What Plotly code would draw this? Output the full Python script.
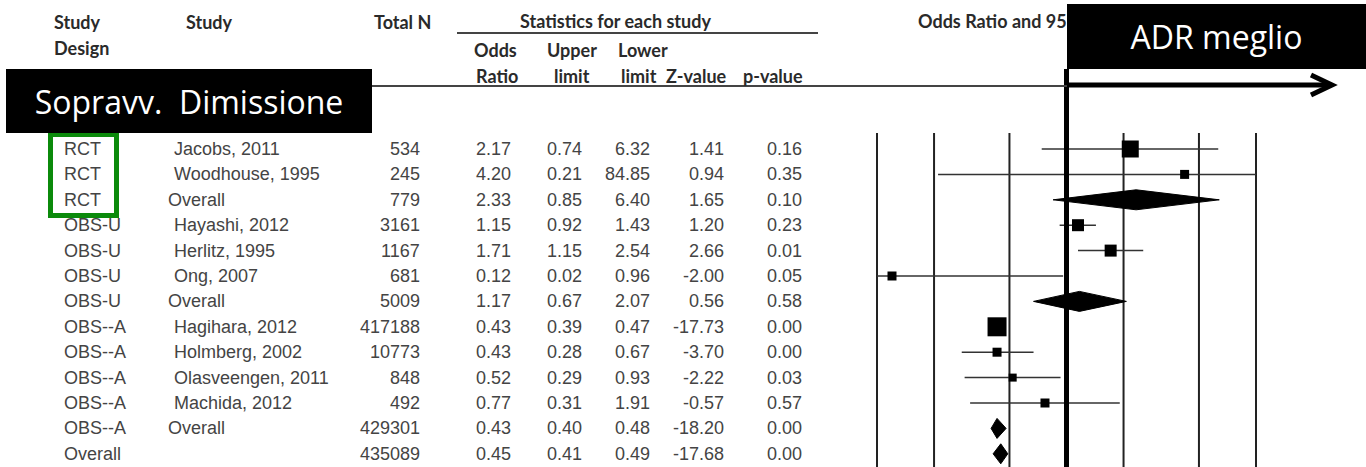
import plotly.graph_objects as go

# ---------------- data ----------------
designs = ["RCT", "RCT", "RCT", "OBS-U", "OBS-U", "OBS-U", "OBS-U",
           "OBS--A", "OBS--A", "OBS--A", "OBS--A", "OBS--A", "Overall"]
studies = ["Jacobs, 2011", "Woodhouse, 1995", "Overall", "Hayashi, 2012",
           "Herlitz, 1995", "Ong, 2007", "Overall", "Hagihara, 2012",
           "Holmberg, 2002", "Olasveengen, 2011", "Machida, 2012", "Overall", ""]
total_n = [534, 245, 779, 3161, 1167, 681, 5009, 417188, 10773, 848, 492, 429301, 435089]
odds_ratio = [2.17, 4.20, 2.33, 1.15, 1.71, 0.12, 1.17, 0.43, 0.43, 0.52, 0.77, 0.43, 0.45]
upper_limit = [0.74, 0.21, 0.85, 0.92, 1.15, 0.02, 0.67, 0.39, 0.28, 0.29, 0.31, 0.40, 0.41]
lower_limit = [6.32, 84.85, 6.40, 1.43, 2.54, 0.96, 2.07, 0.47, 0.67, 0.93, 1.91, 0.48, 0.49]
z_value = [1.41, 0.94, 1.65, 1.20, 2.66, -2.00, 0.56, -17.73, -3.70, -2.22, -0.57, -18.20, -17.68]
p_value = [0.16, 0.35, 0.10, 0.23, 0.01, 0.05, 0.58, 0.00, 0.00, 0.03, 0.57, 0.00, 0.00]
is_summary = [False, False, True, False, False, False, True,
              False, False, False, False, True, True]
axis_ticks = [0.1, 0.2, 0.5, 1, 2, 5, 10]

# ---------------- style / layout ----------------
marker_px = [17, 9, 0, 12, 12, 9, 0, 19, 9, 8, 9, 0, 0]   # square sizes (px)
W, H = 1366, 467
PX_PER_DEC = 189.5
PX_AT_01 = 877
x_lo = -1 - PX_AT_01 / PX_PER_DEC
x_hi = x_lo + W / PX_PER_DEC
ROW0, ROW_H = 149.0, 25.4
y_top = -ROW0 / ROW_H
y_bot = (H - ROW0) / ROW_H
DIAM_HALF = 10 / ROW_H
AX_MIN, AX_MAX = axis_ticks[0], axis_ticks[-1]

fig = go.Figure()

# CI lines
for i, (lo, hi, summ) in enumerate(zip(upper_limit, lower_limit, is_summary)):
    if summ:
        continue
    fig.add_trace(go.Scatter(
        x=[max(lo, AX_MIN), min(hi, AX_MAX)], y=[i, i], mode="lines",
        line=dict(color="#333333", width=1.5), hoverinfo="skip", showlegend=False))

# squares
sq_idx = [i for i in range(len(odds_ratio)) if not is_summary[i]]
fig.add_trace(go.Scatter(
    x=[odds_ratio[i] for i in sq_idx], y=sq_idx, mode="markers",
    marker=dict(symbol="square", size=[marker_px[i] for i in sq_idx],
                color="black", opacity=1, line=dict(width=0)),
    hoverinfo="skip", showlegend=False))

# diamonds
for i, summ in enumerate(is_summary):
    if not summ:
        continue
    fig.add_trace(go.Scatter(
        x=[upper_limit[i], odds_ratio[i], lower_limit[i], odds_ratio[i], upper_limit[i]],
        y=[i, i - DIAM_HALF, i, i + DIAM_HALF, i],
        mode="lines", fill="toself", fillcolor="black",
        line=dict(color="black", width=1), hoverinfo="skip", showlegend=False))

shapes = []
# vertical reference lines
for t in axis_ticks:
    if t == 1:
        shapes.append(dict(type="line", xref="x", yref="y2", x0=t, x1=t, y0=69, y1=H,
                           line=dict(color="black", width=5), layer="above"))
    else:
        shapes.append(dict(type="line", xref="x", yref="y2", x0=t, x1=t, y0=133, y1=H,
                           line=dict(color="#222222", width=2), layer="below"))
# header rules
shapes.append(dict(type="line", xref="x2", yref="y2", x0=300, x1=1067, y0=86, y1=86,
                   line=dict(color="#444444", width=2)))
shapes.append(dict(type="line", xref="x2", yref="y2", x0=457, x1=818, y0=33, y1=33,
                   line=dict(color="#444444", width=2)))
# thick arrow
shapes.append(dict(type="line", xref="x2", yref="y2", x0=1067, x1=1330, y0=85, y1=85,
                   line=dict(color="black", width=5)))
shapes.append(dict(type="path", xref="x2", yref="y2", path="M1311,75 L1332,85 L1311,95",
                   line=dict(color="black", width=5)))
# green frame
shapes.append(dict(type="rect", xref="x2", yref="y2", x0=50.5, x1=116.5, y0=134.5, y1=215.5,
                   line=dict(color="#0b8a0b", width=5)))

ann = []
tfont = dict(family="Liberation Sans, Arial", size=18, color="#444444")
hfont = dict(family="Lato, Open Sans", size=18, color="#2a2a2a")


def txt(text, x, y, xanchor="left", yref="y", font=tfont):
    ann.append(dict(text=text, x=x, y=y, xref="x2", yref=yref, xanchor=xanchor,
                    yanchor="middle", showarrow=False, font=font, borderpad=0))


# headers
def hdr(text, x, y, xanchor="left"):
    txt("<b>" + text + "</b>", x, y, xanchor, yref="y2", font=hfont)


hdr("Study", 53, 22)
hdr("Design", 53, 48)
hdr("Study", 185, 22)
hdr("Total N", 432, 22, "right")
hdr("Statistics for each study", 615, 21, "center")
hdr("Odds", 473, 50)
hdr("Ratio", 475, 76)
hdr("Upper", 546, 50)
hdr("limit", 553, 76)
hdr("Lower", 617, 50)
hdr("limit", 620, 76)
hdr("Z-value", 665, 76)
hdr("p-value", 742, 76)
hdr("Odds Ratio and 95% CI", 917, 21)

# table rows
for i in range(len(designs)):
    txt(designs[i], 63, i)
    if studies[i]:
        txt(studies[i], 167 if studies[i] == "Overall" else 173, i)
    txt(str(total_n[i]), 421, i, "right")
    txt(f"{odds_ratio[i]:.2f}", 512, i, "right")
    txt(f"{upper_limit[i]:.2f}", 583, i, "right")
    txt(f"{lower_limit[i]:.2f}", 651, i, "right")
    txt(f"{z_value[i]:.2f}", 725, i, "right")
    txt(f"{p_value[i]:.2f}", 803, i, "right")

# black label boxes (drawn last so they cover the header)
bfont = dict(family="Open Sans, Noto Sans", size=32, color="white")
ann.append(dict(text="ADR meglio", x=1067, y=4, xref="x2", yref="y2", xanchor="left",
                yanchor="top", width=299, height=65, bgcolor="black", borderpad=0,
                borderwidth=0, showarrow=False, font=bfont, align="center", valign="middle"))
ann.append(dict(text="Sopravv.\u00a0 Dimissione", x=6, y=69, xref="x2", yref="y2",
                xanchor="left", yanchor="top", width=366, height=64, bgcolor="black",
                borderpad=0, borderwidth=0, showarrow=False, font=bfont,
                align="center", valign="middle"))

fig.update_layout(
    width=W, height=H, margin=dict(l=0, r=0, t=0, b=0),
    paper_bgcolor="white", plot_bgcolor="white",
    xaxis=dict(type="log", range=[x_lo, x_hi], visible=False, domain=[0, 1]),
    yaxis=dict(range=[y_bot, y_top], visible=False, domain=[0, 1]),
    xaxis2=dict(range=[0, W], visible=False, overlaying="x", anchor="y2"),
    yaxis2=dict(range=[H, 0], visible=False, overlaying="y", anchor="x2"),
    shapes=shapes, annotations=ann, showlegend=False,
)

fig.write_html("out.html", config={"displayModeBar": False},
               post_script="document.body.style.margin='0';")
